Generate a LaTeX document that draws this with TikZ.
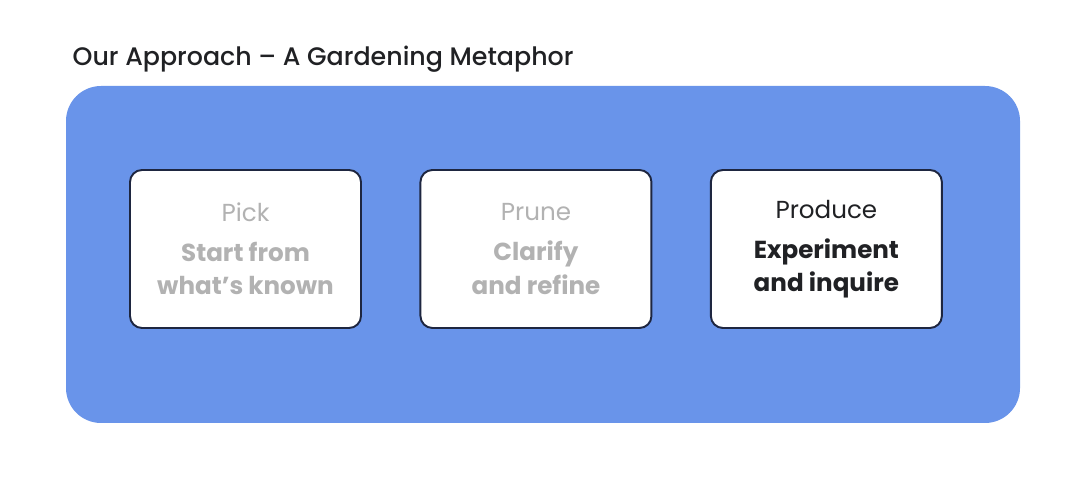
\documentclass[tikz,border=0pt]{standalone}
\usepackage{fontspec}
\setmainfont{Poppins}
\newfontfamily\titlefont{Poppins}[UprightFont=* Medium, Ligatures=TeX]
\usetikzlibrary{positioning}

\definecolor{panelblue}{HTML}{6994EA}
\definecolor{edgenavy}{HTML}{1E2640}
\definecolor{fadegray}{HTML}{B2B2B2}
\definecolor{inkdark}{HTML}{202124}

\tikzset{
    card/.style={draw=edgenavy, line width=1.1pt, fill=white, rounded corners=0.24cm,
        minimum width=4.62cm, minimum height=3.16cm, align=center,
        font=\fontsize{14}{18.8}\selectfont, inner sep=0pt},
    faded/.style={text=fadegray},
    active/.style={text=inkdark}
}

\begin{document}
\begin{tikzpicture}
    \useasboundingbox (0,0) rectangle (21.6,9.82);

    % titel
    \node[anchor=west, text=inkdark, font=\fontsize{14.4}{17}\titlefont] (title) at (1.33,8.64)
        {Our Approach -- A Gardening Metaphor};

    % blaues feld
    \fill[panelblue, rounded corners=0.7cm] (1.32,1.36) rectangle (20.4,8.1);

    % drei karten
    \node[card, faded] (pick) at (4.91,4.84)
        {Pick\\[4pt]\textbf{Start from}\\\textbf{what's known}};
    \node[card, faded, right=1.15cm of pick] (prune)
        {Prune\\[4pt]\textbf{Clarify}\\\textbf{and refine}};
    \node[card, active, right=1.15cm of prune] (produce)
        {Produce\\[4pt]\textbf{Experiment}\\\textbf{and inquire}};

\end{tikzpicture}
\end{document}
